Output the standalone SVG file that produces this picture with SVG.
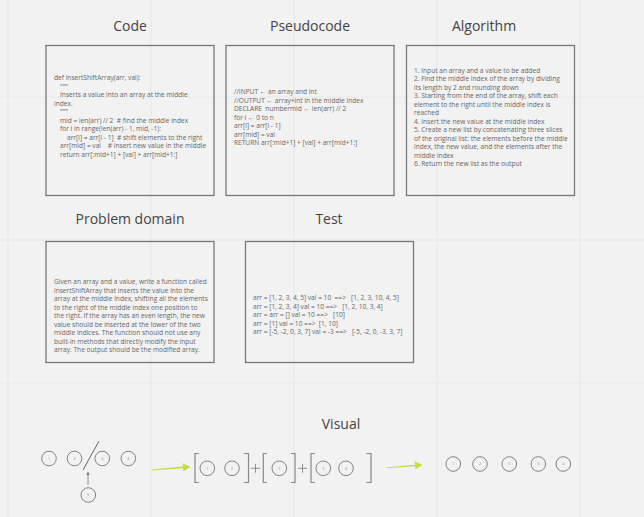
<svg xmlns="http://www.w3.org/2000/svg" width="644" height="517" viewBox="0 0 644 517">
<defs>
<style>
.grid{stroke:#e8e8e8;stroke-width:1.2}
.box{fill:none;stroke:#777;stroke-width:1.3}
.title{font-family:"Open Sans","Liberation Sans",sans-serif;font-size:14px;fill:#444;text-anchor:middle}
.t{font-family:"Open Sans","Liberation Sans",sans-serif;font-size:6.6px;fill:#666}
.c{fill:none;stroke:#666;stroke-width:0.8}
.n{font-family:"Open Sans","Liberation Sans",sans-serif;font-size:3.5px;fill:#888;text-anchor:middle}
.br{fill:none;stroke:#888;stroke-width:1.2}
.plus{stroke:#777;stroke-width:0.8}
.ga{fill:#c6de3a}
</style>
</defs>
<rect width="644" height="517" fill="#f2f2f2"/>
<g id="grid">
<line class="grid" x1="8" y1="0" x2="8" y2="517"/>
<line class="grid" x1="151" y1="0" x2="151" y2="517"/>
<line class="grid" x1="294" y1="0" x2="294" y2="517"/>
<line class="grid" x1="437" y1="0" x2="437" y2="517"/>
<line class="grid" x1="580" y1="0" x2="580" y2="517"/>
<line class="grid" x1="0" y1="97" x2="644" y2="97"/>
<line class="grid" x1="0" y1="240" x2="644" y2="240"/>
<line class="grid" x1="0" y1="383" x2="644" y2="383"/>
</g>
<g id="code">
<text class="title" x="130" y="31">Code</text>
<rect class="box" x="46" y="45.5" width="168" height="150"/>
<text class="t" x="54" y="80">def insertShiftArray(arr, val):</text>
<text class="t" x="60" y="88.5">"""</text>
<text class="t" x="60" y="97">Inserts a value into an array at the middle</text>
<text class="t" x="54" y="105.5">index.</text>
<text class="t" x="60" y="114">"""</text>
<text class="t" x="60" y="122.5" xml:space="preserve">mid = len(arr) // 2  # find the middle index</text>
<text class="t" x="60" y="131">for i in range(len(arr) - 1, mid, -1):</text>
<text class="t" x="67" y="139.5" xml:space="preserve">arr[i] = arr[i - 1]  # shift elements to the right</text>
<text class="t" x="60" y="148" xml:space="preserve">arr[mid] = val    # insert new value in the middle</text>
<text class="t" x="60" y="156.5">return arr[:mid+1] + [val] + arr[mid+1:]</text>
</g>
<g id="pseudocode">
<text class="title" x="310" y="31">Pseudocode</text>
<rect class="box" x="226" y="45.5" width="168" height="150"/>
<text class="t" x="234" y="94">//INPUT ← an array and int</text>
<text class="t" x="234" y="102.5">//OUTPUT ← array+int in the middle index</text>
<text class="t" x="234" y="111" xml:space="preserve">DECLARE  numbermid ← len(arr) // 2</text>
<text class="t" x="234" y="119.5">for i ← 0 to n</text>
<text class="t" x="234" y="128">arr[i] = arr[i - 1]</text>
<text class="t" x="234" y="136.5">arr[mid] = val</text>
<text class="t" x="234" y="145">RETURN arr[:mid+1] + [val] + arr[mid+1:]</text>
</g>
<g id="algorithm">
<text class="title" x="484" y="31">Algorithm</text>
<rect class="box" x="406.5" y="45.5" width="168" height="150"/>
<text class="t" x="414" y="72.5">1. Input an array and a value to be added</text>
<text class="t" x="414" y="81">2. Find the middle index of the array by dividing</text>
<text class="t" x="414" y="89.5">its length by 2 and rounding down</text>
<text class="t" x="414" y="98">3. Starting from the end of the array, shift each</text>
<text class="t" x="414" y="106.5">element to the right until the middle index is</text>
<text class="t" x="414" y="115">reached</text>
<text class="t" x="414" y="123.5">4. Insert the new value at the middle index</text>
<text class="t" x="414" y="132">5. Create a new list by concatenating three slices</text>
<text class="t" x="414" y="140.5">of the original list: the elements before the middle</text>
<text class="t" x="414" y="149">index, the new value, and the elements after the</text>
<text class="t" x="414" y="157.5">middle index</text>
<text class="t" x="414" y="166">6. Return the new list as the output</text>
</g>
<g id="problem-domain">
<text class="title" x="130" y="224">Problem domain</text>
<rect class="box" x="46" y="241.5" width="168" height="121"/>
<text class="t" x="54" y="284">Given an array and a value, write a function called</text>
<text class="t" x="54" y="292.5">insertShiftArray that inserts the value into the</text>
<text class="t" x="54" y="301">array at the middle index, shifting all the elements</text>
<text class="t" x="54" y="309.5">to the right of the middle index one position to</text>
<text class="t" x="54" y="318">the right. If the array has an even length, the new</text>
<text class="t" x="54" y="326.5">value should be inserted at the lower of the two</text>
<text class="t" x="54" y="335">middle indices. The function should not use any</text>
<text class="t" x="54" y="343.5">built-in methods that directly modify the input</text>
<text class="t" x="54" y="352">array. The output should be the modified array.</text>
</g>
<g id="test">
<text class="title" x="329" y="224">Test</text>
<rect class="box" x="245.5" y="241.5" width="168" height="121"/>
<text class="t" x="253" y="300" xml:space="preserve">arr = [1, 2, 3, 4, 5] val = 10  ==>   [1, 2, 3, 10, 4, 5]</text>
<text class="t" x="253" y="308.5" xml:space="preserve">arr = [1, 2, 3, 4] val = 10 ==>   [1, 2, 10, 3, 4]</text>
<text class="t" x="253" y="317" xml:space="preserve">arr = arr = [] val = 10 ==>   [10]</text>
<text class="t" x="253" y="325.5" xml:space="preserve">arr = [1] val = 10 ==>  [1, 10]</text>
<text class="t" x="253" y="334" xml:space="preserve">arr = [-5, -2, 0, 3, 7] val = -3 ==>   [-5, -2, 0, -3, 3, 7]</text>
</g>
<g id="visual">
<text class="title" x="341" y="429">Visual</text>
<g id="input-array">
<circle class="c" cx="49" cy="458.5" r="7.3"/><text class="n" x="49" y="459.8">1</text>
<circle class="c" cx="74.5" cy="458.5" r="7.3"/><text class="n" x="74.5" y="459.8">2</text>
<circle class="c" cx="102.3" cy="458.5" r="7.3"/><text class="n" x="102.3" y="459.8">3</text>
<circle class="c" cx="128.3" cy="458.5" r="7.3"/><text class="n" x="128.3" y="459.8">4</text>
<line x1="83" y1="470" x2="99" y2="441" stroke="#555" stroke-width="0.9"/>
<circle class="c" cx="88.3" cy="495" r="7.3"/><text class="n" x="88.3" y="496.3">5</text>
<line x1="88" y1="485" x2="88" y2="474" stroke="#777" stroke-width="0.8"/>
<path d="M86.3,475 L88,471.5 L89.7,475 Z" fill="#777"/>
</g>
<g id="split-array">
<path class="br" d="M199,453.5 H195 V482.5 H199"/>
<circle class="c" cx="207.3" cy="468.3" r="7.3"/><text class="n" x="207.3" y="469.6">1</text>
<circle class="c" cx="232" cy="468.3" r="7.3"/><text class="n" x="232" y="469.6">2</text>
<path class="br" d="M244,453.5 H248.5 V482.5 H244"/>
<line class="plus" x1="251" y1="468.3" x2="260" y2="468.3"/><line class="plus" x1="255.5" y1="463.8" x2="255.5" y2="472.8"/>
<path class="br" d="M267,453.5 H263.3 V482.5 H267"/>
<circle class="c" cx="279.3" cy="468.3" r="7.3"/><text class="n" x="279.3" y="469.6">5</text>
<path class="br" d="M291,453.5 H295 V482.5 H291"/>
<line class="plus" x1="298" y1="468.3" x2="307" y2="468.3"/><line class="plus" x1="302.5" y1="463.8" x2="302.5" y2="472.8"/>
<path class="br" d="M315,453.5 H311 V482.5 H315"/>
<circle class="c" cx="323.3" cy="468.3" r="7.3"/><text class="n" x="323.3" y="469.6">3</text>
<circle class="c" cx="346" cy="468.3" r="7.3"/><text class="n" x="346" y="469.6">4</text>
<path class="br" d="M366.5,453.5 H371 V482.5 H366.5"/>
</g>
<g id="result-array">
<circle class="c" cx="453.3" cy="464" r="7.3"/><text class="n" x="453.3" y="465.3">1</text>
<circle class="c" cx="480" cy="464" r="7.3"/><text class="n" x="480" y="465.3">2</text>
<circle class="c" cx="509.3" cy="464" r="7.3"/><text class="n" x="509.3" y="465.3">5</text>
<circle class="c" cx="538.3" cy="464" r="7.3"/><text class="n" x="538.3" y="465.3">3</text>
<circle class="c" cx="563.3" cy="464" r="7.3"/><text class="n" x="563.3" y="465.3">4</text>
</g>
</g>
<g id="connectors">
<path class="ga" d="M152,469.6 L183,466.6 L182.6,463.2 L190.5,467 L183.3,471.2 L183.1,468.2 L152,470.4 Z"/>
<path class="ga" d="M386,467.4 L415,464.8 L414.6,461.4 L422.7,465 L415.4,469.3 L415.2,466.3 L386,468.2 Z"/>
</g>
</svg>
